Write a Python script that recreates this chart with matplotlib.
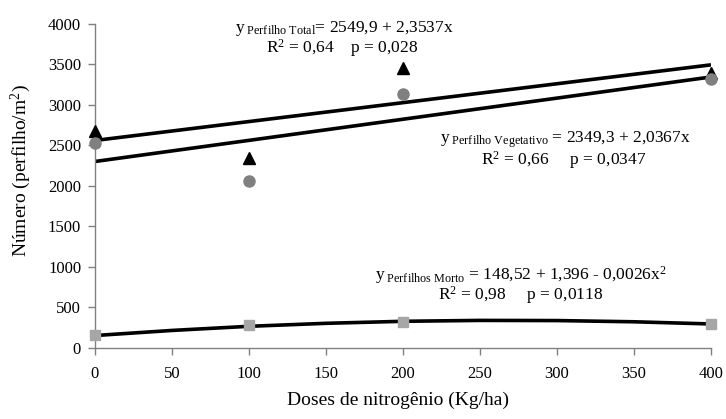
import matplotlib
matplotlib.use("Agg")
import matplotlib.pyplot as plt

plt.rcParams['font.family'] = ['Liberation Serif', 'DejaVu Serif']
plt.rcParams['mathtext.fontset'] = 'custom'
plt.rcParams['mathtext.rm'] = 'Liberation Serif'
plt.rcParams['mathtext.it'] = 'Liberation Serif:italic'

doses = [0, 100, 200, 400]
perfilho_total = [2680, 2340, 3450, 3395]
perfilho_vegetativo = [2530, 2060, 3140, 3320]
perfilho_morto = [150, 280, 310, 290]

trend_x = [0, 400]
trend_total = [2560, 3495]
trend_veg = [2300, 3345]

morto_curve_x = [0, 50, 100, 150, 200, 250, 300, 350, 400]
morto_curve_y = [148, 211, 262, 299, 324, 335, 333, 318, 291]

x_ticks = [0, 50, 100, 150, 200, 250, 300, 350, 400]
y_ticks = [0, 500, 1000, 1500, 2000, 2500, 3000, 3500, 4000]

W, H = 726, 419
fig = plt.figure(figsize=(W / 100, H / 100), dpi=100)
ax = fig.add_axes([95 / W, 1 - 347.5 / H, (711 - 95) / W, (347.5 - 24) / H])

ax.plot(trend_x, trend_total, color='black', lw=2.6, zorder=2, solid_capstyle='butt')
ax.plot(trend_x, trend_veg, color='black', lw=2.6, zorder=2, solid_capstyle='butt')
ax.plot(morto_curve_x, morto_curve_y, color='black', lw=2.6, zorder=2)

ax.plot(doses, perfilho_total, '^', color='black', ms=8.5, ls='none', zorder=3, clip_on=False)
ax.plot(doses, perfilho_vegetativo, 'o', color='#808080', ms=8, ls='none', zorder=3, clip_on=False)
ax.plot(doses, perfilho_morto, 's', color='#a6a6a6', ms=7.5, ls='none', zorder=3, clip_on=False)

ax.set_xlim(0, 400)
ax.set_ylim(0, 4000)
ax.set_xticks(x_ticks)
ax.set_yticks(y_ticks)
ax.tick_params(axis='both', direction='out', length=5, width=1, color='#808080',
               labelsize=12, pad=5)
ax.tick_params(axis='x', pad=8)
for s in ['top', 'right']:
    ax.spines[s].set_visible(False)
for s in ['left', 'bottom']:
    ax.spines[s].set_color('#808080')
    ax.spines[s].set_linewidth(1)

fig.text(398 / W, 1 - 400 / H, 'Doses de nitrogênio (Kg/ha)', ha='center', va='center', fontsize=14)
fig.text(21 / W, 1 - 171 / H, 'Número (perfilho/m$^{2}$)', ha='center', va='center',
         rotation=90, fontsize=14)

fs = 12.5
fig.text(344 / W, 1 - 29 / H, r'y$_{\mathrm{\ Perfilho\ Total}}$= 2549,9 + 2,3537x',
         ha='center', va='center', fontsize=fs)
fig.text(342 / W, 1 - 48 / H, r'R$^{2}$ = 0,64    p = 0,028',
         ha='center', va='center', fontsize=fs)

fig.text(565 / W, 1 - 140 / H, r'y$_{\mathrm{\ Perfilho\ Vegetativo}}$ = 2349,3 + 2,0367x',
         ha='center', va='center', fontsize=fs)
fig.text(564 / W, 1 - 160 / H, r'R$^{2}$ = 0,66     p = 0,0347',
         ha='center', va='center', fontsize=fs)

fig.text(521 / W, 1 - 275 / H, r'y$_{\mathrm{\ Perfilhos\ Morto}}$ = 148,52 + 1,396 - 0,0026x$^{2}$',
         ha='center', va='center', fontsize=fs)
fig.text(521 / W, 1 - 295 / H, r'R$^{2}$ = 0,98     p = 0,0118',
         ha='center', va='center', fontsize=fs)

fig.savefig('out.png', dpi=100)
